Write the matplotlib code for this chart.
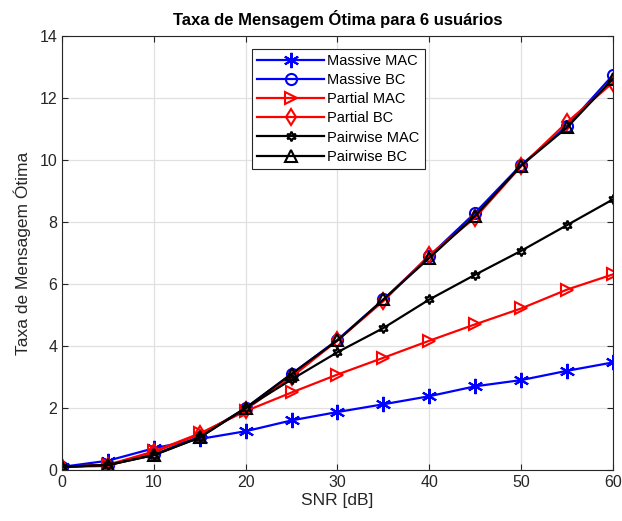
import numpy as np
import matplotlib
matplotlib.use("Agg")
import matplotlib.pyplot as plt

plt.rcParams['font.family'] = ['Liberation Sans', 'DejaVu Sans']

# dados
snr = [0, 5, 10, 15, 20, 25, 30, 35, 40, 45, 50, 55, 60]
massive_mac = [0.1, 0.3, 0.7, 1.0, 1.25, 1.6, 1.87, 2.12, 2.38, 2.7, 2.9, 3.2, 3.47]
massive_bc = [0.1, 0.17, 0.5, 1.08, 2.0, 3.1, 4.2, 5.5, 6.9, 8.3, 9.84, 11.1, 12.74]
partial_mac = [0.1, 0.17, 0.6, 1.18, 1.9, 2.5, 3.08, 3.62, 4.17, 4.7, 5.21, 5.82, 6.31]
partial_bc = [0.1, 0.13, 0.58, 1.15, 1.95, 3.0, 4.18, 5.45, 6.93, 8.14, 9.8, 11.22, 12.5]
pairwise_mac = [0.1, 0.16, 0.48, 1.05, 2.0, 2.92, 3.8, 4.58, 5.5, 6.3, 7.07, 7.9, 8.73]
pairwise_bc = [0.1, 0.16, 0.48, 1.05, 2.0, 3.1, 4.18, 5.5, 6.84, 8.2, 9.82, 11.05, 12.62]

fig = plt.figure(figsize=(6.22, 5.21), dpi=100)
ax = fig.add_axes([0.0997, 0.0979, 0.8858, 0.833])

lw = 1.6
asterisco = (6, 2, 0)
hexagrama = (6, 1, 0)
ax.plot(snr, massive_mac, '-', marker=asterisco, color='blue', lw=lw, ms=11, mew=1.5, label='Massive MAC')
ax.plot(snr, massive_bc, '-o', color='blue', lw=lw, ms=8, mfc='none', mew=1.5, label='Massive BC')
ax.plot(snr, partial_mac, '->', color='red', lw=lw, ms=9, mfc='none', mew=1.5, label='Partial MAC')
ax.plot(snr, partial_bc, '-d', color='red', lw=lw, ms=8, mfc='none', mew=1.5, label='Partial BC')
ax.plot(snr, pairwise_mac, '-', marker=hexagrama, color='black', lw=lw, ms=7, mfc='none', mew=1.5, label='Pairwise MAC')
ax.plot(snr, pairwise_bc, '-^', color='black', lw=lw, ms=8, mfc='none', mew=1.5, label='Pairwise BC')

ax.set_xlim(0, 60)
ax.set_ylim(0, 14)
ax.set_xticks(np.arange(0, 61, 10))
ax.set_yticks(np.arange(0, 15, 2))
ax.grid(True, color='#e0e0e0', lw=0.9)
ax.set_axisbelow(True)
ax.tick_params(direction='in', top=True, right=True, labelsize=11.5, colors='#262626', length=4)
for s in ax.spines.values():
    s.set_color('#262626')
    s.set_linewidth(0.8)

ax.set_xlabel('SNR [dB]', fontsize=12.5, color='#262626', labelpad=2)
ax.set_ylabel('Taxa de Mensagem Ótima', fontsize=12.5, color='#262626', labelpad=6)
ax.set_title('Taxa de Mensagem Ótima para 6 usuários', fontsize=12, fontweight='bold', pad=8)

leg = ax.legend(loc='upper left', bbox_to_anchor=(0.345, 0.97), fontsize=10.5,
                fancybox=False, framealpha=1, edgecolor='#262626',
                handlelength=4.6, handletextpad=0.2, labelspacing=0.35, borderpad=0.35,
                borderaxespad=0)
leg.get_frame().set_linewidth(0.8)

fig.savefig('out.png', dpi=100)
